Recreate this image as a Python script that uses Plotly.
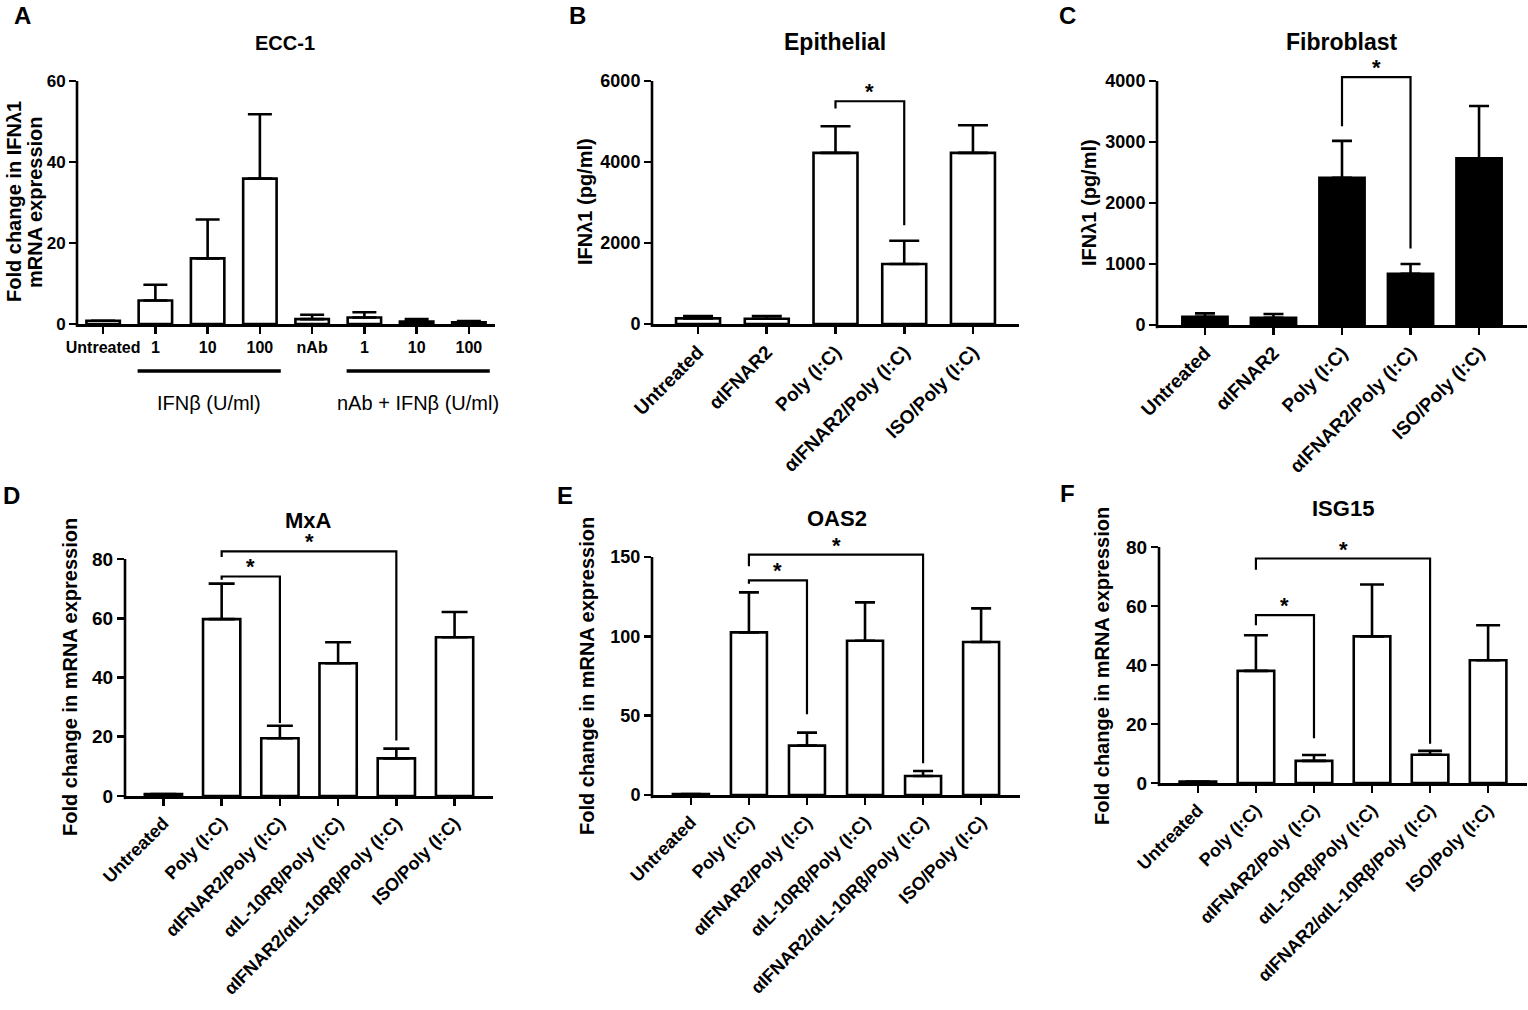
import plotly.graph_objects as go

W, H = 1528, 1010
FONT = "Liberation Sans"

# ---------------- data ----------------
A_labels = ["Untreated", "1", "10", "100", "nAb", "1", "10", "100"]
A_mean = [0.8, 5.8, 16.2, 35.9, 1.2, 1.6, 0.6, 0.4]
A_upper = [0.8, 9.7, 25.8, 51.8, 2.3, 2.9, 1.2, 0.7]      # top of error bar
A_groups = [("IFNβ (U/ml)", 1, 3), ("nAb + IFNβ (U/ml)", 5, 7)]

BC_labels = ["Untreated", "αIFNAR2", "Poly (I:C)", "αIFNAR2/Poly (I:C)", "ISO/Poly (I:C)"]
B_mean = [140, 130, 4225, 1480, 4225]
B_upper = [197, 197, 4882, 2055, 4907]
B_brackets = [(2, 3, 5500, 5320, 2440)]          # (from, to, level, left end, right end)

C_mean = [136, 120, 2412, 840, 2734]
C_upper = [191, 180, 3018, 999, 3591]
C_brackets = [(2, 3, 4065, 3258, 1255)]

DEF_labels = ["Untreated", "Poly (I:C)", "αIFNAR2/Poly (I:C)", "αIL-10Rβ/Poly (I:C)",
              "αIFNAR2/αIL-10Rβ/Poly (I:C)", "ISO/Poly (I:C)"]
D_mean = [0.7, 59.7, 19.5, 44.8, 12.7, 53.6]
D_upper = [0.7, 71.7, 23.7, 51.9, 16.0, 62.1]
D_brackets = [(1, 2, 74.1, 73.0, 24.6), (1, 4, 82.6, 80.7, 18.7)]

E_mean = [0.6, 102.5, 31.1, 97.2, 12.0, 96.4]
E_upper = [0.6, 127.7, 39.3, 121.4, 15.1, 117.6]
E_brackets = [(1, 2, 135.3, 133.2, 50.9), (1, 4, 151.5, 144.1, 20.0)]

F_mean = [0.45, 38.0, 7.5, 49.7, 9.6, 41.6]
F_upper = [0.45, 50.1, 9.5, 67.3, 10.9, 53.5]
F_brackets = [(1, 2, 56.9, 53.5, 15.2), (1, 4, 76.1, 72.3, 13.3)]

# ---------------- layout of panels ----------------
panels = [
    dict(letter="A", labels=A_labels, mean=A_mean, upper=A_upper, brackets=[],
         title="ECC-1", ylabel=["Fold change in IFNλ1", "mRNA expression"], ylabel_x=[14, 35],
         yticks=[0, 20, 40, 60], ymax=60, ext=60,
         left=77, right=495, y0=324, ytop=81, xpad=0.5, fill="white",
         barw=0.64, capw=12, tickangle=0, tickfs=16, ytickfs=17,
         letter_xy=(22, 15), title_xy=(285, 43), title_fs=20, ylabel_y=202),
    dict(letter="B", labels=BC_labels, mean=B_mean, upper=B_upper, brackets=B_brackets,
         title="Epithelial", ylabel=["IFNλ1 (pg/ml)"], ylabel_x=[585],
         yticks=[0, 2000, 4000, 6000], ymax=6000, ext=6000,
         left=652, right=1019, y0=324, ytop=81, xpad=0.67, fill="white",
         barw=0.64, capw=15, tickangle=-45, tickfs=19, ytickfs=18,
         letter_xy=(577, 15), title_xy=(835, 42), title_fs=23, ylabel_y=202),
    dict(letter="C", labels=BC_labels, mean=C_mean, upper=C_upper, brackets=C_brackets,
         title="Fibroblast", ylabel=["IFNλ1 (pg/ml)"], ylabel_x=[1089],
         yticks=[0, 1000, 2000, 3000, 4000], ymax=4000, ext=4400,
         left=1157, right=1527, y0=325, ytop=81, xpad=0.7, fill="black",
         barw=0.66, capw=10, tickangle=-45, tickfs=19, ytickfs=18,
         letter_xy=(1067, 15), title_xy=(1342, 42), title_fs=23, ylabel_y=203),
    dict(letter="D", labels=DEF_labels, mean=D_mean, upper=D_upper, brackets=D_brackets,
         title="MxA", ylabel=["Fold change in mRNA expression"], ylabel_x=[70],
         yticks=[0, 20, 40, 60, 80], ymax=80, ext=88,
         left=125, right=493, y0=796, ytop=559, xpad=0.66, fill="white",
         barw=0.64, capw=13, tickangle=-45, tickfs=18, ytickfs=19,
         letter_xy=(11, 495), title_xy=(308, 520), title_fs=22, ylabel_y=677),
    dict(letter="E", labels=DEF_labels, mean=E_mean, upper=E_upper, brackets=E_brackets,
         title="OAS2", ylabel=["Fold change in mRNA expression"], ylabel_x=[587],
         yticks=[0, 50, 100, 150], ymax=150, ext=165,
         left=652, right=1020, y0=795, ytop=557, xpad=0.67, fill="white",
         barw=0.62, capw=10, tickangle=-45, tickfs=18, ytickfs=18,
         letter_xy=(565, 495), title_xy=(837, 518), title_fs=22, ylabel_y=676),
    dict(letter="F", labels=DEF_labels, mean=F_mean, upper=F_upper, brackets=F_brackets,
         title="ISG15", ylabel=["Fold change in mRNA expression"], ylabel_x=[1102],
         yticks=[0, 20, 40, 60, 80], ymax=80, ext=88,
         left=1159, right=1527, y0=783, ytop=547, xpad=0.67, fill="white",
         barw=0.63, capw=12, tickangle=-45, tickfs=18, ytickfs=19,
         letter_xy=(1067, 493), title_xy=(1343, 508), title_fs=22, ylabel_y=666),
]

LW = 2.6
fig = go.Figure()
layout = dict(template="none", width=W, height=H, margin=dict(l=0, r=0, t=0, b=0, pad=0),
              paper_bgcolor="white", plot_bgcolor="white", showlegend=False,
              font=dict(family=FONT, color="black"))
shapes, annotations = [], []


def px(x, y):
    return x / W, 1 - y / H


for i, p in enumerate(panels, start=1):
    sfx = "" if i == 1 else str(i)
    xa, ya = "x" + sfx, "y" + sfx
    xkey, ykey = "xaxis" + sfx, "yaxis" + sfx
    n = len(p["labels"])
    err = [u - m for u, m in zip(p["upper"], p["mean"])]
    fig.add_trace(go.Bar(
        x=list(range(n)), y=p["mean"], width=p["barw"], xaxis=xa, yaxis=ya,
        marker=dict(color=p["fill"], line=dict(color="black", width=LW)),
        error_y=dict(type="data", array=err, arrayminus=[0] * n, symmetric=False,
                     color="black", thickness=LW, width=p["capw"]),
        hoverinfo="skip"))
    ytop_ext = p["y0"] - (p["y0"] - p["ytop"]) * p["ext"] / p["ymax"]
    layout[xkey] = dict(domain=[p["left"] / W, p["right"] / W], anchor=ya, automargin=False,
                        range=[-p["xpad"], n - 1 + p["xpad"]],
                        tickvals=list(range(n)), ticktext=p["labels"],
                        tickangle=p["tickangle"], ticks="outside", ticklen=7,
                        tickwidth=LW, tickcolor="black", showline=True, linewidth=LW,
                        linecolor="black", showgrid=False, zeroline=False,
                        tickfont=dict(family=FONT, size=p["tickfs"], color="black", weight="bold"),
                        fixedrange=True)
    layout[ykey] = dict(domain=[1 - p["y0"] / H, 1 - ytop_ext / H], anchor=xa, automargin=False,
                        range=[0, p["ext"]], tickvals=p["yticks"], ticks="outside",
                        ticklen=7, tickwidth=LW, tickcolor="black", showline=False,
                        showgrid=False, zeroline=False,
                        tickfont=dict(family=FONT, size=p["ytickfs"], color="black", weight="bold"),
                        fixedrange=True)
    # visible y axis line (only up to the top tick)
    shapes.append(dict(type="line", xref=f"{xa} domain", yref=f"{ya} domain",
                       x0=0, x1=0, y0=-0.012, y1=p["ymax"] / p["ext"],
                       line=dict(color="black", width=LW)))
    # significance brackets
    for (a, b, level, lend, rend) in p["brackets"]:
        shapes.append(dict(type="path", xref=xa, yref=ya,
                           path=f"M {a},{lend} L {a},{level} L {b},{level} L {b},{rend}",
                           line=dict(color="black", width=2.2)))
        annotations.append(dict(xref=xa, yref=ya, x=(a + b) / 2, y=level, text="<b>*</b>",
                                showarrow=False, yanchor="bottom", yshift=-5,
                                font=dict(family=FONT, size=22, color="black")))
    # panel letter, title, y label
    lx, ly = px(*p["letter_xy"])
    annotations.append(dict(xref="paper", yref="paper", x=lx, y=ly, text=f"<b>{p['letter']}</b>",
                            showarrow=False, xanchor="center", yanchor="middle",
                            font=dict(family=FONT, size=24, color="black")))
    tx, ty = px(*p["title_xy"])
    annotations.append(dict(xref="paper", yref="paper", x=tx, y=ty, text=f"<b>{p['title']}</b>",
                            showarrow=False, xanchor="center", yanchor="middle",
                            font=dict(family=FONT, size=p["title_fs"], color="black")))
    for line, lxp in zip(p["ylabel"], p["ylabel_x"]):
        yx, yy = px(lxp, p["ylabel_y"])
        annotations.append(dict(xref="paper", yref="paper", x=yx, y=yy, text=f"<b>{line}</b>",
                                showarrow=False, xanchor="center", yanchor="middle", textangle=-90,
                                font=dict(family=FONT, size=20, color="black")))

# group lines and labels under panel A
for (label, g0, g1) in A_groups:
    shapes.append(dict(type="line", xref="x", yref="paper", x0=g0 - 0.34, x1=g1 + 0.4,
                       y0=1 - 371 / H, y1=1 - 371 / H, line=dict(color="black", width=3.5)))
    annotations.append(dict(xref="x", yref="paper", x=(g0 + g1) / 2 + 0.03, y=1 - 403 / H,
                            text=label, showarrow=False, xanchor="center", yanchor="middle",
                            font=dict(family=FONT, size=20, color="black")))

layout["shapes"] = shapes
layout["annotations"] = annotations
fig.update_layout(**layout)
fig.write_html("out.html", config={"displayModeBar": False, "staticPlot": True},
               post_script="document.body.style.margin='0';document.body.style.overflow='hidden';")
